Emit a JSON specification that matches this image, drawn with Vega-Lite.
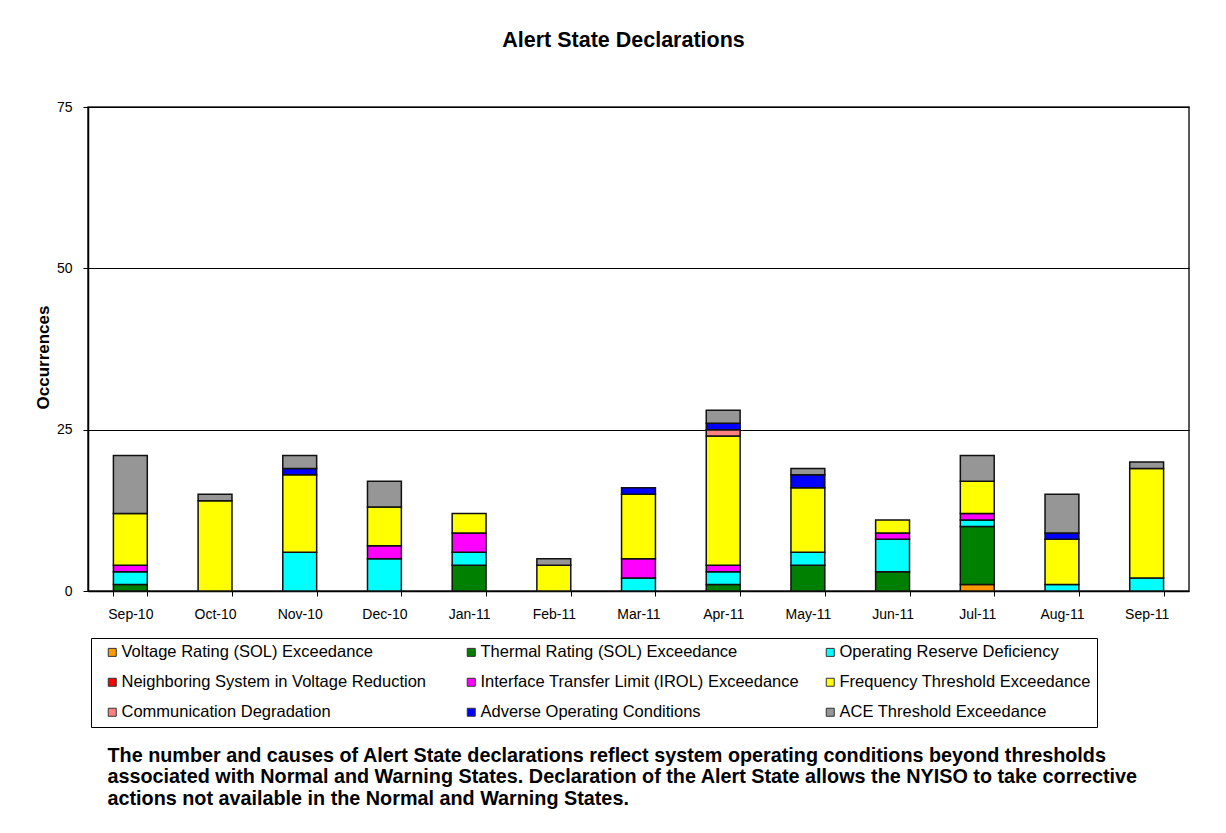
{
  "$schema": "https://vega.github.io/schema/vega-lite/v6.json",
  "width": 1101,
  "height": 484,
  "autosize": {"type": "none"},
  "padding": {"left": 88, "top": 107, "right": 37, "bottom": 242},
  "background": "white",
  "config": {
    "font": "Liberation Sans",
    "view": {"stroke": "#222", "strokeWidth": 1.5}
  },
  "title": {
    "text": "Alert State Declarations",
    "font": "Liberation Sans",
    "fontSize": 21.5,
    "fontWeight": "bold",
    "color": "#000",
    "anchor": "middle",
    "dx": -15,
    "offset": 49
  },
  "data": {
    "values": [
      {"month": "Sep-10", "cause": "Thermal Rating (SOL) Exceedance", "n": 1},
      {"month": "Sep-10", "cause": "Operating Reserve Deficiency", "n": 2},
      {"month": "Sep-10", "cause": "Interface Transfer Limit (IROL) Exceedance", "n": 1},
      {"month": "Sep-10", "cause": "Frequency Threshold Exceedance", "n": 8},
      {"month": "Sep-10", "cause": "ACE Threshold Exceedance", "n": 9},
      {"month": "Oct-10", "cause": "Frequency Threshold Exceedance", "n": 14},
      {"month": "Oct-10", "cause": "ACE Threshold Exceedance", "n": 1},
      {"month": "Nov-10", "cause": "Operating Reserve Deficiency", "n": 6},
      {"month": "Nov-10", "cause": "Frequency Threshold Exceedance", "n": 12},
      {"month": "Nov-10", "cause": "Adverse Operating Conditions", "n": 1},
      {"month": "Nov-10", "cause": "ACE Threshold Exceedance", "n": 2},
      {"month": "Dec-10", "cause": "Operating Reserve Deficiency", "n": 5},
      {"month": "Dec-10", "cause": "Interface Transfer Limit (IROL) Exceedance", "n": 2},
      {"month": "Dec-10", "cause": "Frequency Threshold Exceedance", "n": 6},
      {"month": "Dec-10", "cause": "ACE Threshold Exceedance", "n": 4},
      {"month": "Jan-11", "cause": "Thermal Rating (SOL) Exceedance", "n": 4},
      {"month": "Jan-11", "cause": "Operating Reserve Deficiency", "n": 2},
      {"month": "Jan-11", "cause": "Interface Transfer Limit (IROL) Exceedance", "n": 3},
      {"month": "Jan-11", "cause": "Frequency Threshold Exceedance", "n": 3},
      {"month": "Feb-11", "cause": "Frequency Threshold Exceedance", "n": 4},
      {"month": "Feb-11", "cause": "ACE Threshold Exceedance", "n": 1},
      {"month": "Mar-11", "cause": "Operating Reserve Deficiency", "n": 2},
      {"month": "Mar-11", "cause": "Interface Transfer Limit (IROL) Exceedance", "n": 3},
      {"month": "Mar-11", "cause": "Frequency Threshold Exceedance", "n": 10},
      {"month": "Mar-11", "cause": "Adverse Operating Conditions", "n": 1},
      {"month": "Apr-11", "cause": "Thermal Rating (SOL) Exceedance", "n": 1},
      {"month": "Apr-11", "cause": "Operating Reserve Deficiency", "n": 2},
      {"month": "Apr-11", "cause": "Interface Transfer Limit (IROL) Exceedance", "n": 1},
      {"month": "Apr-11", "cause": "Frequency Threshold Exceedance", "n": 20},
      {"month": "Apr-11", "cause": "Communication Degradation", "n": 1},
      {"month": "Apr-11", "cause": "Adverse Operating Conditions", "n": 1},
      {"month": "Apr-11", "cause": "ACE Threshold Exceedance", "n": 2},
      {"month": "May-11", "cause": "Thermal Rating (SOL) Exceedance", "n": 4},
      {"month": "May-11", "cause": "Operating Reserve Deficiency", "n": 2},
      {"month": "May-11", "cause": "Frequency Threshold Exceedance", "n": 10},
      {"month": "May-11", "cause": "Adverse Operating Conditions", "n": 2},
      {"month": "May-11", "cause": "ACE Threshold Exceedance", "n": 1},
      {"month": "Jun-11", "cause": "Thermal Rating (SOL) Exceedance", "n": 3},
      {"month": "Jun-11", "cause": "Operating Reserve Deficiency", "n": 5},
      {"month": "Jun-11", "cause": "Interface Transfer Limit (IROL) Exceedance", "n": 1},
      {"month": "Jun-11", "cause": "Frequency Threshold Exceedance", "n": 2},
      {"month": "Jul-11", "cause": "Voltage Rating (SOL) Exceedance", "n": 1},
      {"month": "Jul-11", "cause": "Thermal Rating (SOL) Exceedance", "n": 9},
      {"month": "Jul-11", "cause": "Operating Reserve Deficiency", "n": 1},
      {"month": "Jul-11", "cause": "Interface Transfer Limit (IROL) Exceedance", "n": 1},
      {"month": "Jul-11", "cause": "Frequency Threshold Exceedance", "n": 5},
      {"month": "Jul-11", "cause": "ACE Threshold Exceedance", "n": 4},
      {"month": "Aug-11", "cause": "Operating Reserve Deficiency", "n": 1},
      {"month": "Aug-11", "cause": "Frequency Threshold Exceedance", "n": 7},
      {"month": "Aug-11", "cause": "Adverse Operating Conditions", "n": 1},
      {"month": "Aug-11", "cause": "ACE Threshold Exceedance", "n": 6},
      {"month": "Sep-11", "cause": "Operating Reserve Deficiency", "n": 2},
      {"month": "Sep-11", "cause": "Frequency Threshold Exceedance", "n": 17},
      {"month": "Sep-11", "cause": "ACE Threshold Exceedance", "n": 1}
    ]
  },
  "mark": {"type": "bar", "stroke": "#111", "strokeWidth": 1.5},
  "encoding": {
    "x": {
      "field": "month",
      "type": "nominal",
      "sort": ["Sep-10", "Oct-10", "Nov-10", "Dec-10", "Jan-11", "Feb-11", "Mar-11", "Apr-11", "May-11", "Jun-11", "Jul-11", "Aug-11", "Sep-11"],
      "scale": {"paddingInner": 0.6, "paddingOuter": 0.3},
      "axis": {
        "title": [
          "The number and causes of Alert State declarations reflect system operating conditions beyond thresholds",
          "associated with Normal and Warning States.  Declaration of the Alert State allows the NYISO to take corrective",
          "actions not available in the Normal and Warning States."
        ],
        "titleFont": "Liberation Sans",
        "titleFontSize": 19.8,
        "titleFontWeight": "bold",
        "titleColor": "#000",
        "titleAlign": "left",
        "titleAnchor": "start",
        "titleBaseline": "top",
        "titleX": 19,
        "titleY": 154,
        "titleLineHeight": 21.5,
        "labelAngle": 0,
        "labelFontSize": 14,
        "labelColor": "#000",
        "labelBaseline": "top",
        "labelPadding": 11,
        "tickBand": "extent",
        "tickSize": 5,
        "tickColor": "#000",
        "domainColor": "#000",
        "domainWidth": 1.5,
        "grid": false
      }
    },
    "y": {
      "field": "n",
      "type": "quantitative",
      "stack": "zero",
      "scale": {"domain": [0, 75], "nice": false},
      "axis": {
        "title": "Occurrences",
        "titleFont": "Liberation Sans",
        "titleFontSize": 17,
        "titleFontWeight": "bold",
        "titleColor": "#000",
        "titleX": -45,
        "titleY": 250,
        "titleBaseline": "middle",
        "titleAlign": "center",
        "values": [0, 25, 50, 75],
        "labelFontSize": 14,
        "labelColor": "#000",
        "labelPadding": 11,
        "tickSize": 5,
        "tickColor": "#000",
        "domainColor": "#000",
        "domainWidth": 1.5,
        "grid": true,
        "gridColor": "#000",
        "gridWidth": 1
      }
    },
    "color": {
      "field": "cause",
      "type": "nominal",
      "sort": [
        "Voltage Rating (SOL) Exceedance",
        "Thermal Rating (SOL) Exceedance",
        "Operating Reserve Deficiency",
        "Neighboring System in Voltage Reduction",
        "Interface Transfer Limit (IROL) Exceedance",
        "Frequency Threshold Exceedance",
        "Communication Degradation",
        "Adverse Operating Conditions",
        "ACE Threshold Exceedance"
      ],
      "scale": {
        "domain": [
          "Voltage Rating (SOL) Exceedance",
          "Thermal Rating (SOL) Exceedance",
          "Operating Reserve Deficiency",
          "Neighboring System in Voltage Reduction",
          "Interface Transfer Limit (IROL) Exceedance",
          "Frequency Threshold Exceedance",
          "Communication Degradation",
          "Adverse Operating Conditions",
          "ACE Threshold Exceedance"
        ],
        "range": ["#FF9900", "#008000", "#00FFFF", "#FF0000", "#FF00FF", "#FFFF00", "#FF8080", "#0000FF", "#969696"]
      },
      "legend": {
        "title": null,
        "orient": "none",
        "legendX": 3,
        "legendY": 531,
        "direction": "horizontal",
        "columns": 3,
        "gridAlign": "all",
        "columnPadding": 15,
        "rowPadding": 13,
        "padding": 6,
        "symbolOffset": 7,
        "strokeColor": "#000",
        "fillColor": "white",
        "symbolType": "square",
        "symbolSize": 64,
        "symbolStrokeColor": "#333",
        "symbolStrokeWidth": 1,
        "labelFont": "Liberation Sans",
        "labelFontSize": 16.5,
        "labelColor": "#000",
        "labelLimit": 500,
        "labelOffset": 1
      }
    }
  }
}
